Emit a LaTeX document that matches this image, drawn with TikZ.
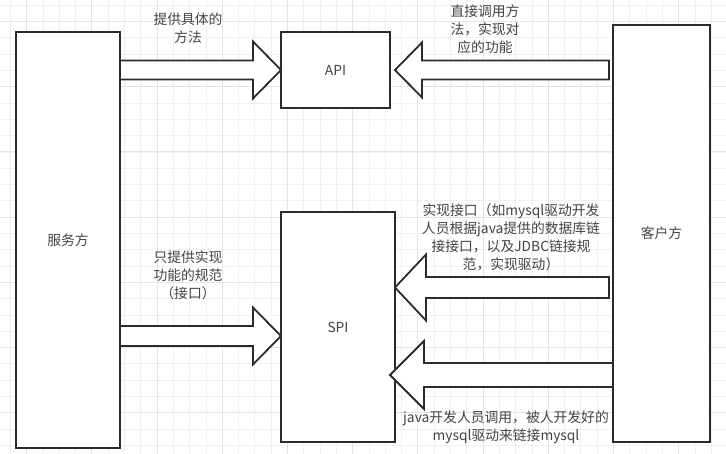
\documentclass[tikz,border=0pt]{standalone}
\usepackage{fontspec}
\setmainfont{Noto Sans CJK SC}
\usetikzlibrary{calc}
\definecolor{linec}{HTML}{2B2B2B}
\definecolor{txtc}{HTML}{444444}
\definecolor{gridmin}{HTML}{F0F0F0}
\definecolor{gridmaj}{HTML}{E4E4E4}
\tikzset{
  box/.style={draw=linec, line width=1.8pt, fill=white, rectangle, inner sep=0pt, outer sep=0pt, text=txtc, font=\fontsize{13.8}{18}\selectfont},
  lbl/.style={align=center, text=txtc, inner sep=0pt, font=\fontsize{13.8}{18}\selectfont},
  barrow/.style={draw=linec, line width=1.8pt, fill=white, line join=miter},
  gminor/.style={draw=gridmin, line width=0.8pt},
  gmajor/.style={draw=gridmaj, line width=1pt}
}
% #1 start (x used), #2 tip, #3 direction (1 = arrow points right, -1 = left),
% #4 head length, #5 head half-height, #6 shaft half-height
\newcommand\blockarr[6]{%
  \draw[barrow] let \p1=(#1), \p2=(#2) in
    (\p2) -- (\x2-#3*#4pt,\y2+#5pt) -- (\x2-#3*#4pt,\y2+#6pt) -- (\x1,\y2+#6pt)
    -- (\x1,\y2-#6pt) -- (\x2-#3*#4pt,\y2-#6pt) -- (\x2-#3*#4pt,\y2-#5pt) -- cycle;}
\begin{document}
\begin{tikzpicture}[x=1pt,y=-1pt]
\useasboundingbox (0,0) rectangle (726,454);
\fill[white] (0,0) rectangle (726,454);
% grid
\foreach \i in {-2,...,44} {
  \draw[gminor] ({26.6+16.3*\i},0) -- ({26.6+16.3*\i},454);
}
\foreach \i in {-2,...,28} {
  \draw[gminor] (0,{21.6+16.3*\i}) -- (726,{21.6+16.3*\i});
}
\foreach \i in {0,...,11} {
  \draw[gmajor] ({26.6+65.2*\i},0) -- ({26.6+65.2*\i},454);
}
\foreach \i in {0,...,7} {
  \draw[gmajor] (0,{21.6+65.2*\i}) -- (726,{21.6+65.2*\i});
}
% boxes
\node[box, minimum width=104pt, minimum height=416pt] (srv) at (68,240) {服务方};
\node[box, minimum width=109pt, minimum height=76pt] (api) at (335.5,70) {API};
\node[box, minimum width=114pt, minimum height=230pt] (spi) at (338,327) {SPI};
\node[box, minimum width=97pt, minimum height=417pt] (cli) at (661.5,233.5) {客户方};
% arrows
\blockarr{srv.east}{api.west}{1}{28}{28.5}{9.5}
\blockarr{[xshift=-4pt]cli.west}{[xshift=5pt]api.east}{-1}{27}{27.5}{9.5}
\blockarr{srv.east}{[yshift=-124pt]spi.north west}{1}{28}{28.5}{10}
\blockarr{[xshift=-4pt]cli.west}{[yshift=-75.5pt]spi.north east}{-1}{31}{33}{10.5}
\blockarr{cli.west}{[xshift=-5pt,yshift=-163pt]spi.north east}{-1}{34}{34}{12}
% labels
\node[lbl] (t1) at (188,28.5) {提供具体的\\方法};
\node[lbl] (t2) at (485,29.5) {直接调用方\\法，实现对\\应的功能};
\node[lbl] (t3) at (188,275) {只提供实现\\功能的规范\\（接口）};
\node[lbl] (t4) at (511,237) {实现接口（如mysql驱动开发\\人员根据java提供的数据库链\\接接口，以及JDBC链接规\\范，实现驱动）};
\node[lbl] (t5) at (506,427.5) {java开发人员调用，被人开发好的\\mysql驱动来链接mysql};
\end{tikzpicture}
\end{document}
